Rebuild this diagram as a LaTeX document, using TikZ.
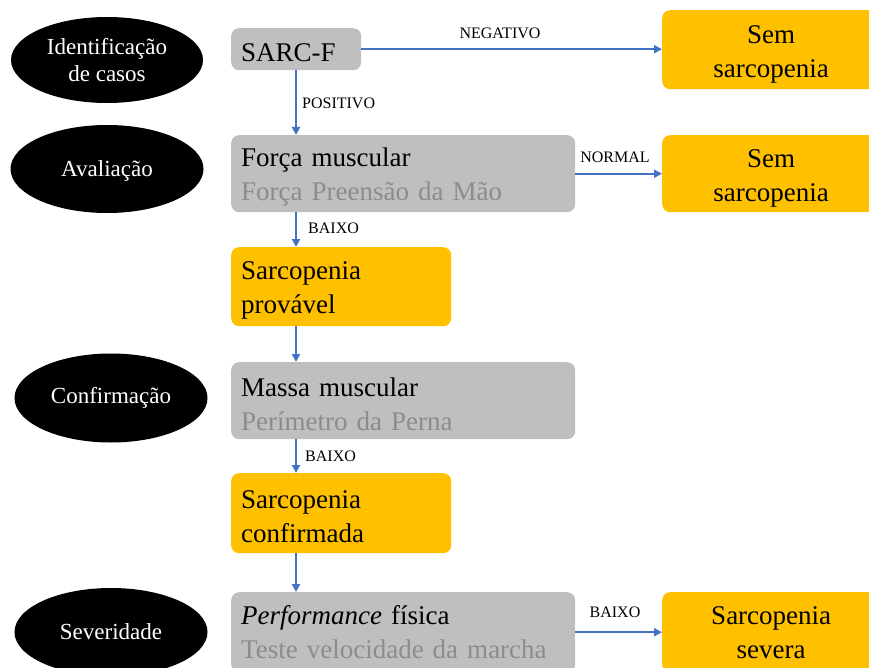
\documentclass[tikz,border=0pt]{standalone}
\usepackage{fontspec}
\setmainfont{Liberation Serif}
\usetikzlibrary{shapes.geometric,arrows.meta}
\definecolor{boxgray}{HTML}{BFBFBF}
\definecolor{boxorange}{HTML}{FFC000}
\definecolor{subgray}{HTML}{8C8C8C}
\definecolor{arrowblue}{HTML}{4472C4}
\newcommand\tallstrut{\rule{0pt}{25pt}}
\newcommand\tallerstrut{\rule{0pt}{27pt}}
\begin{document}
\begin{tikzpicture}[x=1pt,y=-1pt,
  stage/.style={ellipse, fill=black, text=white, inner sep=0pt, align=center,
    font=\fontsize{23}{27}\selectfont},
  boxbase/.style={rounded corners=8pt, anchor=north west, inner xsep=10pt, inner ysep=0pt,
    font=\fontsize{27}{34}\selectfont},
  gbox/.style={boxbase, fill=boxgray, align=left},
  obox/.style={boxbase, fill=boxorange, align=left},
  rbox/.style={boxbase, fill=boxorange, align=center},
  lab/.style={font=\fontsize{16}{18}\selectfont, inner sep=0pt},
  conn/.style={draw=arrowblue, line width=2pt, -{Triangle[length=8pt,width=8pt]}}
]
\useasboundingbox (0,0) rectangle (869,668);
\clip (0,0) rectangle (869,668);

% stage ellipses
\node[stage, minimum width=192, minimum height=86] (e1) at (107,60) {Identificação\\de casos};
\node[stage, minimum width=193, minimum height=88] (e2) at (107,169) {\rule{0pt}{19pt}Avaliação};
\node[stage, minimum width=193, minimum height=89] (e3) at (111,398) {Confirmação};
\node[stage, minimum width=193, minimum height=88] (e4) at (111,632) {Severidade};

% boxes
\node[gbox, text width=110, minimum height=42] (sarc) at (231,28) {\tallstrut SARC-F};
\node[gbox, text width=324, minimum height=77] (forca) at (231,135)
  {\tallstrut Força muscular\\\textcolor{subgray}{Força Preensão da Mão}};
\node[obox, text width=200, minimum height=79] (prov) at (231,247) {\tallstrut Sarcopenia\\provável};
\node[gbox, text width=324, minimum height=77] (massa) at (231,362)
  {\tallstrut Massa muscular\\\textcolor{subgray}{Perímetro da Perna}};
\node[obox, text width=200, minimum height=80] (conf) at (231,473) {\tallstrut Sarcopenia\\confirmada};
\node[gbox, text width=324, minimum height=80] (perf) at (231,592)
  {\textit{Performance} física\\\textcolor{subgray}{Teste velocidade da marcha}};

\node[rbox, text width=198, minimum height=79] (sem1) at (662,10) {\tallerstrut Sem\\sarcopenia};
\node[rbox, text width=198, minimum height=77] (sem2) at (662,135) {\tallerstrut Sem\\sarcopenia};
\node[rbox, text width=198, minimum height=80] (sev) at (662,592) {Sarcopenia\\severa};

% connectors
\coordinate (ax) at (296,0);
\draw[conn] (sarc.east) -- (sarc.east -| sem1.west);
\node[lab] (lneg) at (500,33) {NEGATIVO};
\draw[conn] (sarc.south -| ax) -- (forca.north -| ax);
\node[lab, anchor=west] (lpos) at (302,103) {POSITIVO};
\draw[conn] (forca.east) -- (forca.east -| sem2.west);
\node[lab] (lnor) at (615,157) {NORMAL};
\draw[conn] (forca.south -| ax) -- (prov.north -| ax);
\node[lab, anchor=west] (lb1) at (308,228) {BAIXO};
\draw[conn] (prov.south -| ax) -- (massa.north -| ax);
\draw[conn] (massa.south -| ax) -- (conf.north -| ax);
\node[lab, anchor=west] (lb2) at (305,456) {BAIXO};
\draw[conn] (conf.south -| ax) -- (perf.north -| ax);
\draw[conn] (perf.east) -- (perf.east -| sev.west);
\node[lab] (lb3) at (615,612) {BAIXO};
\end{tikzpicture}
\end{document}
